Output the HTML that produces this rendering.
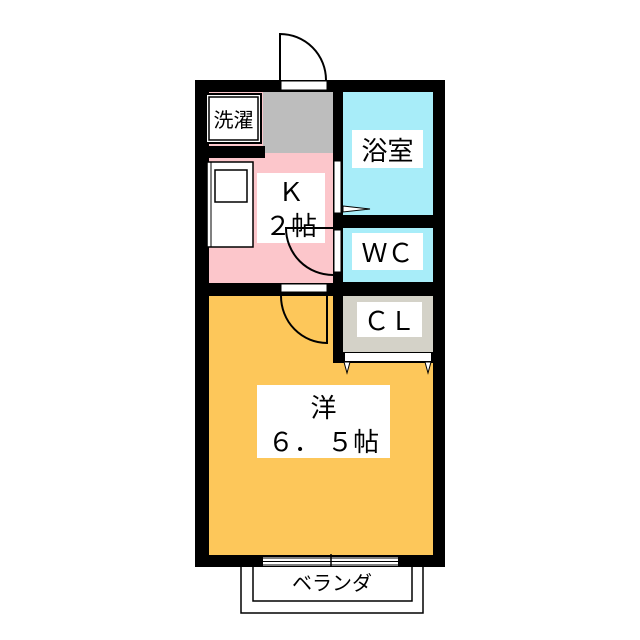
<!DOCTYPE html>
<html><head><meta charset="utf-8"><style>
html,body{margin:0;padding:0;background:#fff;}
svg{display:block;}
text{font-family:"Liberation Sans","Noto Sans CJK JP",sans-serif;fill:#000;}
</style></head><body>
<svg width="640" height="640" viewBox="0 0 640 640" xmlns="http://www.w3.org/2000/svg">
<rect x="195" y="80" width="250" height="487" fill="#000"/>
<rect x="209" y="92" width="124" height="191" fill="#fcc6cb"/>
<rect x="263" y="92" width="70" height="61" fill="#bdbdbd"/>
<rect x="343" y="92" width="90" height="123" fill="#a8edf9"/>
<rect x="343" y="228" width="90" height="54" fill="#a8edf9"/>
<rect x="209" y="296" width="224" height="259" fill="#fdc75a"/>
<rect x="343" y="296" width="90" height="56" fill="#d4d2c8"/>
<rect x="333" y="296" width="10" height="67" fill="#000"/>
<rect x="333" y="352" width="100" height="11" fill="#000"/>
<rect x="345" y="353" width="86" height="8" fill="#fff"/>
<rect x="209" y="363" width="224" height="192" fill="#fdc75a"/>
<rect x="209" y="296" width="124" height="67" fill="#fdc75a"/>
<polygon points="344,362 350,362 347,373" fill="#fff" stroke="#000" stroke-width="1"/>
<polygon points="425,362 431,362 428,373" fill="#fff" stroke="#000" stroke-width="1"/>
<rect x="281" y="81" width="46" height="9" fill="#fff" stroke="#000" stroke-width="1"/>
<path d="M280,80 L280,34 A46,46 0 0 1 326,80" fill="#fff" stroke="#000" stroke-width="2"/>
<rect x="205" y="93" width="57" height="51" fill="#000"/>
<rect x="207" y="95" width="53" height="47" fill="#fff"/>
<rect x="209" y="97" width="49" height="43" fill="#fff" stroke="#000" stroke-width="1.5"/>
<text x="233.5" y="127" font-size="20" text-anchor="middle">洗濯</text>
<rect x="205" y="146" width="60" height="12" fill="#000"/>
<rect x="207" y="162" width="46" height="85" fill="#fff" stroke="#000" stroke-width="1.5"/>
<line x1="211" y1="162" x2="211" y2="247" stroke="#000" stroke-width="1"/>
<rect x="215" y="170" width="32" height="32" fill="#fff" stroke="#000" stroke-width="1.5"/>
<rect x="257" y="173" width="68" height="70" fill="#fff"/>
<text x="291" y="201" font-size="26" text-anchor="middle">Ｋ</text>
<text x="291" y="235" font-size="26" text-anchor="middle">２帖</text>
<rect x="334" y="161" width="7" height="52" fill="#fff" stroke="#000" stroke-width="1"/>
<polygon points="343,206 370,209 343,212" fill="#fff" stroke="#000" stroke-width="1"/>
<rect x="334" y="230" width="7" height="42" fill="#fff" stroke="#000" stroke-width="1"/>
<path d="M343,228 L286,228 A47,47 0 0 0 333,275" fill="none" stroke="#000" stroke-width="2"/>
<rect x="352" y="130" width="71" height="38" fill="#fff"/>
<text x="387.5" y="160" font-size="26" text-anchor="middle">浴室</text>
<rect x="352" y="233" width="71" height="37" fill="#fff"/>
<text x="387.5" y="262" font-size="26" text-anchor="middle">ＷＣ</text>
<rect x="281" y="284" width="46" height="8" fill="#fff" stroke="#000" stroke-width="1"/>
<path d="M327,296 L327,343 A46,47 0 0 1 281,296" fill="none" stroke="#000" stroke-width="2"/>
<rect x="357" y="302" width="65" height="35" fill="#fff"/>
<text x="389.5" y="330" font-size="26" text-anchor="middle">ＣＬ</text>
<rect x="257" y="385" width="133" height="73" fill="#fff"/>
<text x="323.5" y="417" font-size="26" text-anchor="middle">洋</text>
<text x="323.5" y="451" font-size="26" text-anchor="middle">６． ５帖</text>
<rect x="263" y="557" width="135" height="9" fill="#fff"/>
<line x1="263" y1="558" x2="398" y2="558" stroke="#000" stroke-width="1"/>
<line x1="263" y1="561.5" x2="398" y2="561.5" stroke="#000" stroke-width="1"/>
<line x1="263" y1="565" x2="398" y2="565" stroke="#000" stroke-width="1"/>
<line x1="331" y1="554" x2="331" y2="568" stroke="#000" stroke-width="1.5"/>
<path d="M241,567 L241,613 L423,613 L423,567" fill="#fff" stroke="#000" stroke-width="1.5"/>
<path d="M253,567 L253,601 L412,601 L412,567" fill="#fff" stroke="#000" stroke-width="1.5"/>
<text x="332" y="590" font-size="20" text-anchor="middle">ベランダ</text>
</svg>
</body></html>
